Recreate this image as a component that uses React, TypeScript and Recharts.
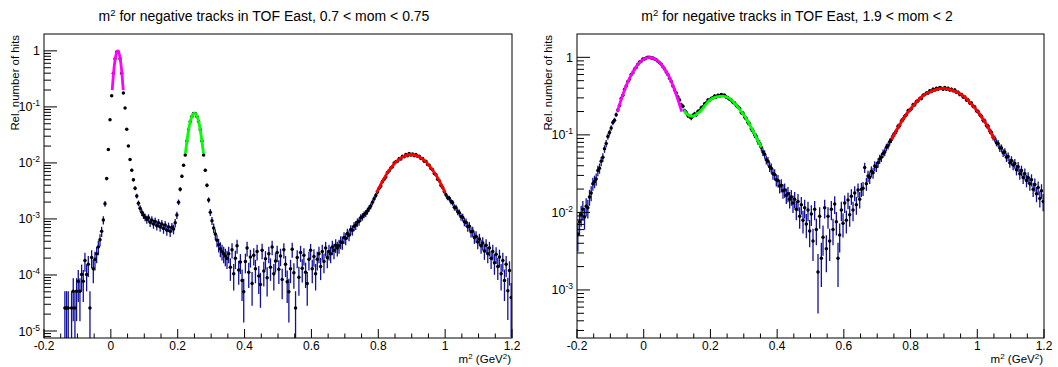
import React from "react";
import { ScatterChart, Scatter, XAxis, YAxis, ErrorBar } from "recharts";

const FONT = '"Liberation Sans", Arial, Helvetica, sans-serif';

// histogram binning shared by both panels
const BIN_START = -0.2;
const BIN_WIDTH = 0.005;
const X_MAJOR = [-0.2, 0, 0.2, 0.4, 0.6, 0.8, 1, 1.2];

// ---- panel 1: 0.7 < mom < 0.75 ----
const leftRange = "0.7 < mom < 0.75";
const leftYMajor = [1e-5, 1e-4, 1e-3, 1e-2, 1e-1, 1];
const leftYDomain = [7.5e-6, 2];
const leftHitUnit = 2.57e-5; // rel. value of one hit
// log10(rel. hits) x 100 per bin, null = empty bin
const leftLog = [
  null, null, null, null, null, null, null, null, null, null,
  null, null, -459, -459, -459, null, -459, -429, -459, -429,
  -411, -429, -399, -411, -374, -399, -381, -459, -369, -389,
  -372, -362, -350, -337, -322, -302, -273, -228, -176, -123,
  -80, -40, -14, -2, -2, -14, -40, -75, -102, -140,
  -170, -194, -213, -230, -245, -259, -272, -281, -288, -293,
  -297, -301, -298, -306, -302, -309, -304, -312, -307, -314,
  -309, -317, -311, -320, -314, -322, -315, -318, -307, -293,
  -270, -247, -224, -204, -186, -161, -141, -126, -117, -112,
  -112, -117, -126, -141, -161, -186, -213, -240, -266, -288,
  -303, -316, -327, -338, -346, -353, -358, -362, -366, -370,
  -362, -386, -355, -398, -370, -348, -391, -377, -410, -430,
  -376, -352, -395, -368, -415, -365, -389, -358, -402, -417,
  -356, -393, -371, -405, -362, -386, -350, -398, -375, -360,
  -390, -366, -408, -355, -381, -412, -430, -389, -354, -396,
  -459, -369, -404, -360, -388, -365, -395, -415, -372, -356,
  -389, -367, -398, -372, -362, -385, -358, -376, -352, -369,
  -358, -362, -350, -356, -347, -352, -348, -341, -342, -333,
  -335, -326, -329, -319, -320, -313, -311, -306, -304, -298,
  -296, -292, -290, -286, -281, -277, -270, -264, -258, -252,
  -245, -241, -233, -229, -225, -217, -214, -209, -207, -200,
  -198, -197, -192, -193, -188, -189, -185, -187, -183, -186,
  -184, -187, -185, -188, -188, -192, -192, -197, -197, -203,
  -204, -210, -212, -219, -221, -229, -232, -240, -244, -251,
  -257, -262, -263, -269, -271, -279, -280, -287, -289, -296,
  -297, -305, -306, -314, -313, -323, -322, -333, -331, -341,
  -336, -348, -343, -357, -347, -362, -352, -370, -358, -378,
  -363, -385, -368, -398, -374, -410, -381, -428, -392, -440,
];
const leftPionFitX = [0.004, 0.007, 0.01, 0.013, 0.016, 0.0185, 0.0205, 0.0225, 0.025, 0.028, 0.031, 0.034, 0.037];
const leftPionFitLog = [-0.7, -0.47, -0.28, -0.145, -0.052, -0.01, 0, -0.01, -0.052, -0.145, -0.28, -0.47, -0.7];
const leftKaonFitX = [0.223, 0.229, 0.235, 0.241, 0.246, 0.25, 0.254, 0.259, 0.265, 0.271, 0.277];
const leftKaonFitLog = [-1.83, -1.55, -1.33, -1.19, -1.13, -1.11, -1.13, -1.19, -1.33, -1.55, -1.83];
const leftProtonFitX = [0.795, 0.816, 0.836, 0.857, 0.877, 0.898, 0.918, 0.939, 0.959, 0.98, 1.0];
const leftProtonFitLog = [-2.53, -2.29, -2.1, -1.96, -1.88, -1.85, -1.88, -1.96, -2.1, -2.29, -2.53];

// ---- panel 2: 1.9 < mom < 2 ----
const rightRange = "1.9 < mom < 2";
const rightYMajor = [1e-3, 1e-2, 1e-1, 1];
const rightYDomain = [2.4e-4, 2];
const rightHitUnit = 8.5e-4;
const rightLog = [
  -228, -212, -203, -196, -206, -192, -194, -180, -175, -163,
  -160, -157, -146, -143, -134, -129, -118, -111, -102, -97,
  -91, -84, -81, -74, -68, -62, -53, -49, -41, -37,
  -31, -28, -22, -20, -15, -13, -9, -6, -5, -2,
  -2, -1, 0, 0, -1, -1, -2, -3, -5, -7,
  -9, -12, -15, -19, -22, -27, -31, -37, -42, -46,
  -51, -55, -61, -63, -69, -71, -75, -76, -78, -75,
  -73, -74, -70, -69, -65, -64, -60, -59, -55, -55,
  -53, -52, -50, -51, -49, -50, -48, -49, -49, -51,
  -52, -54, -55, -58, -59, -62, -64, -66, -71, -72,
  -77, -79, -84, -86, -92, -95, -100, -102, -108, -111,
  -116, -122, -125, -132, -134, -141, -143, -150, -151, -158,
  -159, -166, -165, -172, -171, -178, -176, -183, -180, -188,
  -183, -196, -186, -205, -190, -210, -194, -215, -197, -224,
  -202, -237, -196, -222, -277, -205, -259, -232, -194, -247,
  -205, -237, -196, -222, -189, -212, -259, -229, -197, -214,
  -188, -210, -184, -203, -179, -197, -175, -190, -171, -183,
  -170, -169, -142, -163, -153, -155, -147, -149, -140, -141,
  -136, -131, -129, -124, -122, -116, -114, -109, -106, -101,
  -98, -95, -89, -88, -82, -80, -76, -74, -69, -68,
  -66, -61, -61, -57, -56, -53, -53, -49, -48, -46,
  -46, -43, -44, -41, -42, -40, -41, -39, -40, -41,
  -39, -41, -40, -42, -41, -43, -42, -45, -45, -48,
  -48, -51, -51, -55, -55, -59, -59, -63, -64, -69,
  -70, -74, -76, -81, -82, -88, -89, -95, -97, -103,
  -105, -110, -111, -117, -117, -123, -122, -129, -128, -136,
  -133, -139, -137, -145, -141, -150, -146, -155, -150, -159,
  -155, -163, -158, -170, -164, -176, -168, -182, -172, -186,
];
const rightPionFitX = [-0.079, -0.06, -0.04, -0.021, -0.002, 0.0175, 0.037, 0.056, 0.076, 0.095, 0.114];
const rightPionFitLog = [-0.7, -0.45, -0.25, -0.11, -0.03, 0, -0.03, -0.11, -0.25, -0.45, -0.7];
const rightKaonFitX = [0.12, 0.132, 0.144, 0.157, 0.169, 0.184, 0.198, 0.218, 0.237, 0.257, 0.276, 0.291, 0.306, 0.318, 0.33, 0.342, 0.353];
const rightKaonFitLog = [-0.68, -0.74, -0.76, -0.74, -0.7, -0.62, -0.55, -0.51, -0.5, -0.53, -0.61, -0.69, -0.78, -0.87, -0.97, -1.07, -1.16];
const rightProtonFitX = [0.743, 0.774, 0.805, 0.836, 0.867, 0.8975, 0.928, 0.959, 0.99, 1.021, 1.052];
const rightProtonFitLog = [-1.06, -0.82, -0.64, -0.5, -0.43, -0.4, -0.43, -0.5, -0.64, -0.82, -1.06];

// bins -> points with poisson errors (lower end clipped at the frame)
function toPoints(log100: (number | null)[], unit: number, yMin: number) {
  const pts: { x: number; y: number; err: number[] }[] = [];
  log100.forEach((v, i) => {
    if (v === null) return;
    const y = Math.pow(10, v / 100);
    const e = Math.sqrt(y * unit);
    pts.push({ x: BIN_START + BIN_WIDTH * (i + 0.5), y, err: [Math.min(e, y - yMin), e] });
  });
  return pts;
}

function toCurve(xs: number[], logs: number[]) {
  return xs.map((x, i) => ({ x, y: Math.pow(10, logs[i]) }));
}

function xTicks() {
  const t: number[] = [];
  for (let i = 0; i < X_MAJOR.length - 1; i++) {
    for (let k = 0; k < 4; k++) t.push(X_MAJOR[i] + k * 0.05);
  }
  t.push(X_MAJOR[X_MAJOR.length - 1]);
  return t;
}

function yTicks(majors: number[], dom: number[]) {
  const t: number[] = [];
  majors.forEach((m) => {
    for (let k = 1; k <= 9; k++) {
      const v = (m / 10) * k;
      if (v >= dom[0] && v <= dom[1]) t.push(v);
    }
  });
  majors.forEach((m) => {
    if (!t.includes(m)) t.push(m);
  });
  return t.sort((a, b) => a - b);
}

const XTick = (props: any) => {
  const { x, y, payload } = props;
  const v = payload.value;
  const major = Math.abs(v * 5 - Math.round(v * 5)) < 1e-6;
  return (
    <g>
      <line x1={x} x2={x} y1={y} y2={y - (major ? 9 : 4.5)} stroke="#000" strokeWidth={1} />
      {major && (
        <text x={x} y={y + 12} textAnchor="middle" fontSize={12} fontFamily={FONT} fill="#000">
          {String(Number(v.toFixed(1)))}
        </text>
      )}
    </g>
  );
};

const YTick = (props: any) => {
  const { x, y, payload } = props;
  const lg = Math.log10(payload.value);
  const e = Math.round(lg);
  const major = Math.abs(lg - e) < 1e-6;
  return (
    <g>
      <line x1={x} x2={x + (major ? 13 : 7)} y1={y} y2={y} stroke="#000" strokeWidth={1} />
      {major && (
        <text x={x - 4} y={y + 4.5} textAnchor="end" fontSize={12.5} fontFamily={FONT} fill="#000">
          {e === 0 ? "1" : "10"}
          {e !== 0 && (
            <tspan dy={-5} fontSize={8.5}>
              {e}
            </tspan>
          )}
        </text>
      )}
    </g>
  );
};

const Dot = (p: any) => <circle cx={p.cx} cy={p.cy} r={1.75} fill="#000" />;
const NoDot = () => <g />;

type PanelProps = {
  range: string;
  log: (number | null)[];
  unit: number;
  yDomain: number[];
  yMajor: number[];
  fits: { x: number[]; log: number[]; color: string }[];
  plotLeft: number;
  plotRight: number;
  titleX: number;
};

const W = 529;
const H = 367;
const PLOT_TOP = 34;
const PLOT_BOTTOM = 338;

function Panel({ range, log, unit, yDomain, yMajor, fits, plotLeft, plotRight, titleX }: PanelProps) {
  const points = toPoints(log, unit, yDomain[0]);
  return (
    <div style={{ position: "relative", width: W, height: H }}>
      <ScatterChart
        width={W}
        height={H}
        margin={{ top: PLOT_TOP, right: W - plotRight, bottom: 0, left: 0 }}
      >
        <XAxis
          type="number"
          dataKey="x"
          domain={[-0.2, 1.2]}
          allowDataOverflow
          ticks={xTicks()}
          interval={0}
          tick={XTick}
          tickLine={false}
          axisLine={false}
          tickSize={0}
          tickMargin={0}
          height={H - PLOT_BOTTOM}
        />
        <YAxis
          type="number"
          dataKey="y"
          scale="log"
          domain={yDomain}
          allowDataOverflow
          ticks={yTicks(yMajor, yDomain)}
          interval={0}
          tick={YTick}
          tickLine={false}
          axisLine={false}
          tickSize={0}
          tickMargin={0}
          width={plotLeft}
        />
        <Scatter data={points} shape={Dot} isAnimationActive={false}>
          <ErrorBar dataKey="err" direction="y" width={0} stroke="#10109c" strokeWidth={1.3} />
        </Scatter>
        {fits.map((f, i) => (
          <Scatter
            key={i}
            data={toCurve(f.x, f.log)}
            shape={NoDot}
            line={{ stroke: f.color, strokeWidth: 2.8 }}
            lineJointType="monotoneX"
            isAnimationActive={false}
          />
        ))}
      </ScatterChart>
      <svg
        width={W}
        height={H}
        style={{ position: "absolute", left: 0, top: 0, pointerEvents: "none" }}
        fontFamily={FONT}
      >
        <rect
          x={plotLeft}
          y={PLOT_TOP}
          width={plotRight - plotLeft}
          height={PLOT_BOTTOM - PLOT_TOP}
          fill="none"
          stroke="#000"
          strokeWidth={1}
        />
        <text x={titleX} y={20.5} textAnchor="middle" fontSize={14} fill="#000">
          m<tspan dy={-5} fontSize={9.5}>2</tspan>
          <tspan dy={5}> for negative tracks in TOF East, {range}</tspan>
        </text>
        <text
          transform={`translate(${plotLeft - 25}, 35) rotate(-90)`}
          textAnchor="end"
          fontSize={11.4}
          fill="#000"
        >
          Rel. number of hits
        </text>
        <text x={plotRight - 1} y={363} textAnchor="end" fontSize={11.5} fill="#000">
          m<tspan dy={-4} fontSize={8}>2</tspan>
          <tspan dy={4}> (GeV</tspan>
          <tspan dy={-4} fontSize={8}>2</tspan>
          <tspan dy={4}>)</tspan>
        </text>
      </svg>
    </div>
  );
}

export default function App() {
  return (
    <div
      style={{
        position: "absolute",
        left: 0,
        top: 0,
        width: 1058,
        height: 367,
        background: "#fff",
        display: "flex",
      }}
    >
      <Panel
        range={leftRange}
        log={leftLog}
        unit={leftHitUnit}
        yDomain={leftYDomain}
        yMajor={leftYMajor}
        fits={[
          { x: leftPionFitX, log: leftPionFitLog, color: "#ff00ff" },
          { x: leftKaonFitX, log: leftKaonFitLog, color: "#00ff00" },
          { x: leftProtonFitX, log: leftProtonFitLog, color: "#ff0000" },
        ]}
        plotLeft={44}
        plotRight={512}
        titleX={264}
      />
      <Panel
        range={rightRange}
        log={rightLog}
        unit={rightHitUnit}
        yDomain={rightYDomain}
        yMajor={rightYMajor}
        fits={[
          { x: rightPionFitX, log: rightPionFitLog, color: "#ff00ff" },
          { x: rightKaonFitX, log: rightKaonFitLog, color: "#00ff00" },
          { x: rightProtonFitX, log: rightProtonFitLog, color: "#ff0000" },
        ]}
        plotLeft={48}
        plotRight={515}
        titleX={268}
      />
    </div>
  );
}
